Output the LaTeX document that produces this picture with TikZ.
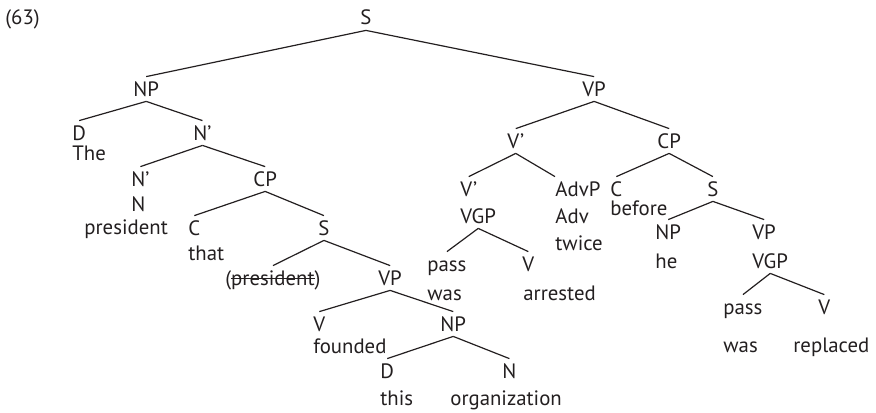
\documentclass[tikz,border=0pt]{standalone}
\usepackage{fontspec}
\setmainfont{PT Sans}
\definecolor{ink}{HTML}{231F20}
\newcommand\struckout[1]{\setbox0\hbox{#1}\rlap{\rule[0.27em]{\wd0}{0.065em}}\box0}
\begin{document}
\begin{tikzpicture}[
    x=0.5pt, y=-0.5pt,
    every node/.style={font=\fontsize{10.4}{12}\selectfont, text=ink},
    cat/.style={anchor=base west, inner xsep=0pt, inner ysep=2.5pt, text height=7pt, text depth=0pt},
    word/.style={anchor=base west, inner sep=0pt},
    branch/.style={draw=ink, line width=0.6pt}
  ]
  \useasboundingbox (0,0) rectangle (876,412);
  \node[word] (ex) at (5,25) {(63)};
  \node[cat] (s0) at (360,25) {S};

  \node[cat] (np1) at (133,96) {NP};
  \node[cat] (d1) at (72,140) {D};
  \node[word] (the) at (72,160) {The};
  \node[cat] (nb1) at (193,140) {N’};
  \node[cat] (nb2) at (131,186) {N’};
  \node[cat] (n1) at (131,211) {N};
  \node[word] (pres) at (84,234) {president};
  \node[cat] (cp1) at (253,186) {CP};
  \node[cat] (c1) at (188,235) {C};
  \node[word] (that) at (188,260) {that};
  \node[cat] (s1) at (318,235) {S};
  \node[cat] (trace) at (225,285) {(\struckout{president})};
  \node[cat] (vp1) at (378,285) {VP};
  \node[cat] (v1) at (313,331) {V};
  \node[word] (founded) at (313,353) {founded};
  \node[cat] (np2) at (440,331) {NP};
  \node[cat] (d2) at (380,378) {D};
  \node[word] (this) at (380,405) {this};
  \node[cat] (n2) at (502,378) {N};
  \node[word] (org) at (450,405) {organization};

  \node[cat] (vp2) at (582,96) {VP};
  \node[cat] (vb1) at (507,148) {V’};
  \node[cat] (vb2) at (460,196) {V’};
  \node[cat] (vgp1) at (460,223) {VGP};
  \node[cat] (pass1) at (427,271) {pass};
  \node[word] (was1) at (427,300) {was};
  \node[cat] (v2) at (522,271) {V};
  \node[word] (arrested) at (523,300) {arrested};
  \node[cat] (advp) at (555,196) {AdvP};
  \node[cat] (adv) at (555,223) {Adv};
  \node[word] (twice) at (555,250) {twice};
  \node[cat] (cp2) at (657,148) {CP};
  \node[cat] (c2) at (610,196) {C};
  \node[word] (before) at (610,215) {before};
  \node[cat] (s2) at (707,196) {S};
  \node[cat] (np3) at (655,239) {NP};
  \node[word] (he) at (655,268) {he};
  \node[cat] (vp3) at (752,239) {VP};
  \node[cat] (vgp2) at (752,268) {VGP};
  \node[cat] (pass2) at (723,314) {pass};
  \node[word] (was2) at (723,352) {was};
  \node[cat] (v3) at (818,314) {V};
  \node[word] (replaced) at (793,352) {replaced};

  \foreach \a/\b in {s0/np1, s0/vp2, np1/d1, np1/nb1, nb1/nb2, nb1/cp1,
      cp1/c1, cp1/s1, s1/trace, s1/vp1, vp1/v1, vp1/np2, np2/d2, np2/n2,
      vp2/vb1, vp2/cp2, vb1/vb2, vgp1/pass1, vgp1/v2, cp2/c2, cp2/s2,
      s2/np3, s2/vp3, vgp2/pass2, vgp2/v3}
    \draw[branch] (\a.south) -- (\b.north);
  \draw[branch] (vb1.south) -- (advp.north west);
\end{tikzpicture}
\end{document}
